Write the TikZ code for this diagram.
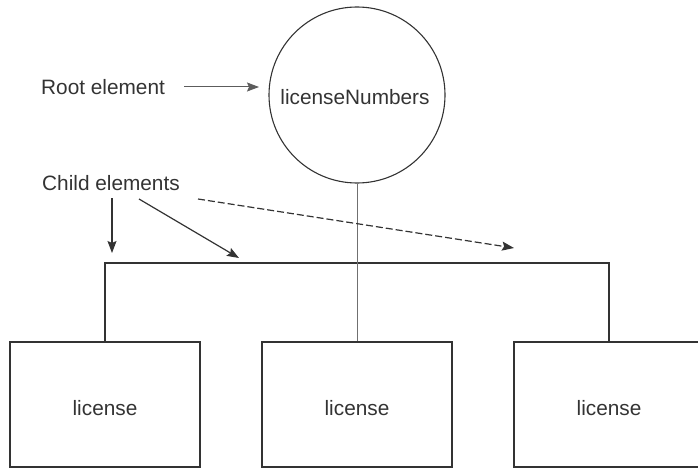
\documentclass[tikz,border=0pt]{standalone}
\usepackage{fontspec}
\setmainfont{Liberation Sans}
\usetikzlibrary{arrows.meta}
\definecolor{ink}{HTML}{333333}
\begin{document}
\begin{tikzpicture}[x=1pt,y=-1pt,
  every node/.style={font=\fontsize{20.8}{24}\selectfont, text=ink},
  label text/.style={inner sep=0pt},
  rootnode/.style={draw=ink, line width=1.1pt, circle, minimum size=176pt, inner sep=0pt},
  childbox/.style={draw=ink, line width=1.6pt, rectangle, minimum width=190pt, minimum height=125pt, inner sep=0pt},
  tree line/.style={draw=ink, line width=1.6pt},
  stem line/.style={draw=ink!70, line width=1pt},
  pointer/.style={draw=ink, line width=1.2pt, -{Stealth[length=12pt,width=9pt,inset=2pt]}},
  dashed pointer/.style={pointer, dash pattern=on 7pt off 3pt},
  light pointer/.style={pointer, draw=ink!80, line width=1pt}]
  \useasboundingbox (0,0) rectangle (698,468);
  \clip (0,0) rectangle (698,468);

  % root of the tree
  \node[rootnode] (root) at (357,95) {};
  \node (rootname) at (355,97) {licenseNumbers};

  % the three child elements
  \node[childbox] (lbox) at (105,404.5) {};
  \node[childbox] (mbox) at (357,404.5) {};
  \node[childbox] (rbox) at (609,404.5) {};
  \node (ltext) at (105,408) {license};
  \node (mtext) at (357,408) {license};
  \node (rtext) at (609,408) {license};

  % connecting lines
  \coordinate (busL) at (105,263);
  \coordinate (busR) at (609,263);
  \draw[tree line] (lbox.north) -- (busL) -- (busR) -- (rbox.north);
  \draw[stem line] (root.south) -- (mbox.north);

  % captions with their pointers
  \node[label text, anchor=west] (rootlbl) at (41,87) {Root element};
  \node[label text, anchor=west] (childlbl) at (42,183) {Child elements};

  \coordinate (r0) at (184,87);
  \coordinate (r1) at (259,87);
  \draw[light pointer] (r0) -- (r1);

  \coordinate (c0) at (112,198);
  \coordinate (c1) at (112,253);
  \coordinate (d0) at (139,199);
  \coordinate (d1) at (239,258);
  \coordinate (e0) at (198,199);
  \coordinate (e1) at (514,248);
  \draw[pointer] (c0) -- (c1);
  \draw[pointer] (d0) -- (d1);
  \draw[dashed pointer] (e0) -- (e1);
\end{tikzpicture}
\end{document}
